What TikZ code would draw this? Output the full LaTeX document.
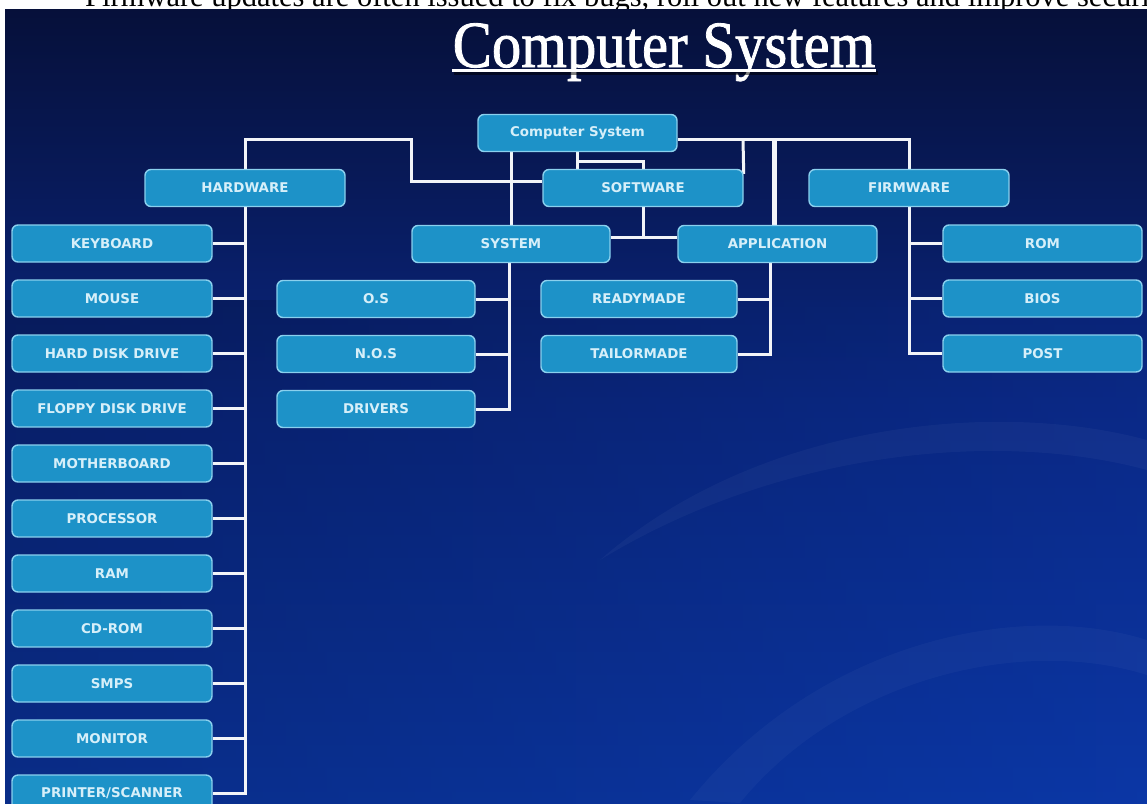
\documentclass[tikz,border=0pt]{standalone}
\usepackage{fontspec}
\setmainfont{Liberation Serif}
\newfontfamily\boxfont{DejaVu Sans}
\newfontfamily\titlefont{Liberation Serif}[FakeBold=1.3]
\usetikzlibrary{calc}
\definecolor{bgtop}{HTML}{06103A}
\definecolor{bgmid}{HTML}{0A2680}
\definecolor{bgbot}{HTML}{0B37A6}
\definecolor{boxfill}{HTML}{1D92C8}
\definecolor{boxline}{HTML}{8AD0EE}
\definecolor{boxtext}{HTML}{D6EFF9}
\definecolor{wire}{HTML}{F2F4F8}
\pgfdeclarelayer{bg}
\pgfdeclarelayer{wires}
\pgfsetlayers{bg,wires,main}
\tikzset{
  box/.style={draw=boxline, fill=boxfill, line width=1.4pt, rounded corners=6pt,
    text=boxtext, font=\boxfont\bfseries\fontsize{13.4}{13.4}\selectfont,
    inner sep=0pt, minimum height=37pt},
  wb/.style={draw=wire, line width=3pt},
  wthick/.style={draw=wire, line width=5pt},
  titletext/.style={anchor=base, inner sep=0pt, font=\titlefont\fontsize{66}{66}\selectfont}
}
\begin{document}
\begin{tikzpicture}[x=1pt,y=-1pt]
\useasboundingbox (0,0) rectangle (1147,803);
\begin{pgfonlayer}{bg}
\fill[white] (0,0) rectangle (1147,803);
% top cut-off text (covered below by the blue slide)
\begin{scope}
\clip (0,0) rectangle (1147,9);
\node[anchor=base west, inner sep=0pt, font=\fontsize{30.5}{30.5}\selectfont] (toptext) at (85,6.5)
  {Firmware updates are often issued to fix bugs, roll out new features and improve security};
\end{scope}
\shade[top color=bgtop, bottom color=bgbot, middle color=bgmid] (5,9) rectangle (1147,803);
\shade[left color=black, right color=bgbot, opacity=0.18] (5,300) rectangle (1147,803);
% faint swoosh
\fill[white, opacity=0.035] (600,560) .. controls (760,420) and (1000,400) .. (1147,440)
  -- (1147,470) .. controls (1000,430) and (780,450) .. (600,560) -- cycle;
\fill[white, opacity=0.03] (690,800) .. controls (820,640) and (1020,600) .. (1147,640)
  -- (1147,675) .. controls (1020,635) and (840,680) .. (740,803) -- cycle;
% title
\node[titletext, text=white] (title) at (664,67) {\scalebox{0.89}[1]{Computer System}};
\fill[black, opacity=0.5] (454,71) rectangle (878,74.5);
\fill[white] (452,68.5) rectangle (876,72);
\end{pgfonlayer}

% boxes
\node[box, minimum width=199pt] (cs) at (577.5,133) {Computer System};
\node[box, minimum width=200pt] (hw) at (245,188) {HARDWARE};
\node[box, minimum width=200pt] (sw) at (643,188) {SOFTWARE};
\node[box, minimum width=200pt] (fw) at (909,188) {FIRMWARE};
\node[box, minimum width=198pt] (sys) at (511,244) {SYSTEM};
\node[box, minimum width=199pt] (app) at (777.5,244) {APPLICATION};

\node[box, minimum width=200pt] (kb) at (112,243.5) {KEYBOARD};
\node[box, minimum width=200pt] (mouse) at (112,298.5) {MOUSE};
\node[box, minimum width=200pt] (hdd) at (112,353.5) {HARD DISK DRIVE};
\node[box, minimum width=200pt] (fdd) at (112,408.5) {FLOPPY DISK DRIVE};
\node[box, minimum width=200pt] (mb) at (112,463.5) {MOTHERBOARD};
\node[box, minimum width=200pt] (proc) at (112,518.5) {PROCESSOR};
\node[box, minimum width=200pt] (ram) at (112,573.5) {RAM};
\node[box, minimum width=200pt] (cdrom) at (112,628.5) {CD-ROM};
\node[box, minimum width=200pt] (smps) at (112,683.5) {SMPS};
\node[box, minimum width=200pt] (mon) at (112,738.5) {MONITOR};
\node[box, minimum width=200pt] (prn) at (112,793.5) {PRINTER/SCANNER};

\node[box, minimum width=198pt] (os) at (376,299) {O.S};
\node[box, minimum width=198pt] (nos) at (376,354) {N.O.S};
\node[box, minimum width=198pt] (drv) at (376,409) {DRIVERS};

\node[box, minimum width=196pt] (ready) at (639,299) {READYMADE};
\node[box, minimum width=196pt] (tailor) at (639,354) {TAILORMADE};

\node[box, minimum width=199pt] (rom) at (1042.5,243.5) {ROM};
\node[box, minimum width=199pt] (bios) at (1042.5,298.5) {BIOS};
\node[box, minimum width=199pt] (post) at (1042.5,353.5) {POST};

% connectors
\coordinate (hwbend) at (411,139);
\coordinate (csr) at (743,139);
\coordinate (cst) at (774,139);
\coordinate (csbr) at (577,161);
\coordinate (swj) at (643,237);
\coordinate (sysb) at ([xshift=-2pt]sys.south);
\coordinate (appb) at ([xshift=-7.5pt]app.south);
\begin{pgfonlayer}{wires}
\draw[wb] (hw.north) |- (hwbend) |- ([yshift=7pt]sw.west);
\draw[wb] ([yshift=-6pt]cs.east) -| (fw.north);
\draw[wb] (csr) -- ([yshift=-5pt]sw.north east);
\draw[wthick] (cst) -- (cst |- app.north);
\draw[wb] (cs.south -| sys.north) -- (sys.north);
\draw[wb] (cs.south -| csbr) -- (csbr |- sw.north);
\draw[wb] (csbr) -| (sw.north);
\draw[wb] (sw.south) -- (swj);
\draw[wb] ([yshift=7pt]sys.east) -- ([yshift=7pt]app.west);

\draw[wb] (hw.south) |- (prn.east);
\foreach \n in {kb,mouse,hdd,fdd,mb,proc,ram,cdrom,smps,mon}
  \draw[wb] (\n.east) -- (\n.east -| hw.south);

\draw[wb] (sysb) |- (drv.east);
\foreach \n in {os,nos}
  \draw[wb] (\n.east) -- (\n.east -| sysb);

\draw[wb] (appb) |- (tailor.east);
\draw[wb] (ready.east) -- (ready.east -| appb);

\draw[wb] (fw.south) |- (post.west);
\foreach \n in {rom,bios}
  \draw[wb] (\n.west) -- (\n.west -| fw.south);
\end{pgfonlayer}
\end{tikzpicture}
\end{document}
